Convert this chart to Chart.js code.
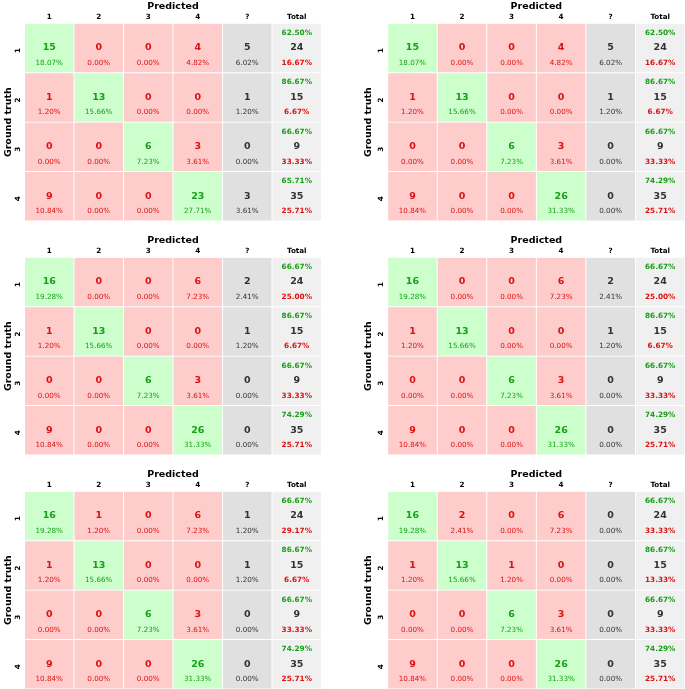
<!DOCTYPE html>
<html>
<head>
<meta charset="utf-8">
<script src="https://cdn.jsdelivr.net/npm/chart.js@4.4.1/dist/chart.umd.min.js"></script>
<style>
  html,body{margin:0;padding:0;background:#fff;overflow:hidden;}
  body{width:685px;height:689px;position:relative;}
  canvas{position:absolute;}
</style>
</head>
<body>
<canvas id="c0"></canvas><canvas id="c1"></canvas>
<canvas id="c2"></canvas><canvas id="c3"></canvas>
<canvas id="c4"></canvas><canvas id="c5"></canvas>
<script>
// ---- data ----
const predictedLabels = ['1', '2', '3', '4', '?', 'Total'];
const truthLabels = ['1', '2', '3', '4'];

// counts per matrix: rows = ground truth 1..4, cols = predicted 1..4, ?
const matrixTL = [
  [15, 0, 0, 4, 5],
  [1, 13, 0, 0, 1],
  [0, 0, 6, 3, 0],
  [9, 0, 0, 23, 3]
];
const matrixTR = [
  [15, 0, 0, 4, 5],
  [1, 13, 0, 0, 1],
  [0, 0, 6, 3, 0],
  [9, 0, 0, 26, 0]
];
const matrixML = [
  [16, 0, 0, 6, 2],
  [1, 13, 0, 0, 1],
  [0, 0, 6, 3, 0],
  [9, 0, 0, 26, 0]
];
const matrixMR = [
  [16, 0, 0, 6, 2],
  [1, 13, 0, 0, 1],
  [0, 0, 6, 3, 0],
  [9, 0, 0, 26, 0]
];
const matrixBL = [
  [16, 1, 0, 6, 1],
  [1, 13, 0, 0, 1],
  [0, 0, 6, 3, 0],
  [9, 0, 0, 26, 0]
];
const matrixBR = [
  [16, 2, 0, 6, 0],
  [1, 13, 1, 0, 0],
  [0, 0, 6, 3, 0],
  [9, 0, 0, 26, 0]
];

const matrices = [matrixTL, matrixTR, matrixML, matrixMR, matrixBL, matrixBR];

// ---- styling ----
const FONT = "'DejaVu Sans', sans-serif";
const BG_GREEN = '#ccffcc', BG_RED = '#ffcccc', BG_UNK = '#e0e0e0', BG_TOT = '#f0f0f0';
const TX_GREEN = '#16a016', TX_RED = '#dd1111', TX_DARK = '#333333';

const panelPos = [
  {left: 0,   top: 0,     width: 340, yAxisW: 21.5, padL: 3,  padR: 18.5},
  {left: 340, top: 0,     width: 345, yAxisW: 24.7, padL: 23, padR: 0},
  {left: 0,   top: 234,   width: 340, yAxisW: 21.5, padL: 3,  padR: 18.5},
  {left: 340, top: 234,   width: 345, yAxisW: 24.7, padL: 23, padR: 0},
  {left: 0,   top: 467.7, width: 340, yAxisW: 21.5, padL: 3,  padR: 18.5},
  {left: 340, top: 467.7, width: 345, yAxisW: 24.7, padL: 23, padR: 0}
];
const PANEL_H = 221;
const X_AXIS_H = 23.3;

function fmtPct(v) { return (v * 100).toFixed(2) + '%'; }

const cellTextPlugin = {
  id: 'cellText',
  afterDatasetsDraw(chart) {
    const m = chart.config.options.plugins.cellText.matrix;
    const grand = m.reduce((s, r) => s + r.reduce((a, b) => a + b, 0), 0);
    const ctx = chart.ctx;
    ctx.save();
    ctx.textAlign = 'center';
    ctx.textBaseline = 'middle';
    chart.data.datasets.forEach((ds, r) => {
      const meta = chart.getDatasetMeta(r);
      const rowTotal = m[r].reduce((a, b) => a + b, 0);
      meta.data.forEach((el, c) => {
        const cx = el.x;
        const cy = (el.y + el.base) / 2;
        if (c < 5) {
          const v = m[r][c];
          const col = c === r ? TX_GREEN : (c === 4 ? TX_DARK : TX_RED);
          ctx.fillStyle = col;
          ctx.font = 'bold 9.5px ' + FONT;
          ctx.fillText(String(v), cx, cy);
          ctx.font = '7.2px ' + FONT;
          ctx.fillText(fmtPct(v / grand), cx, cy + 14.8);
        } else {
          const correct = m[r][r];
          const wrong = m[r].slice(0, 4).reduce((a, b) => a + b, 0) - correct;
          ctx.font = 'bold 7.3px ' + FONT;
          ctx.fillStyle = TX_GREEN;
          ctx.fillText(fmtPct(correct / rowTotal), cx, cy - 15.2);
          ctx.fillStyle = TX_RED;
          ctx.fillText(fmtPct(wrong / rowTotal), cx, cy + 14.8);
          ctx.fillStyle = TX_DARK;
          ctx.font = 'bold 9.5px ' + FONT;
          ctx.fillText(String(rowTotal), cx, cy);
        }
      });
    });
    ctx.restore();
  }
};

matrices.forEach((m, k) => {
  const p = panelPos[k];
  const cv = document.getElementById('c' + k);
  cv.style.left = p.left + 'px';
  cv.style.top = p.top + 'px';
  cv.style.width = p.width + 'px';
  cv.style.height = PANEL_H + 'px';
  cv.width = p.width;
  cv.height = PANEL_H;

  const datasets = truthLabels.map((lab, r) => ({
    label: lab,
    data: predictedLabels.map(() => [r, r + 1]),
    backgroundColor: predictedLabels.map((_, c) =>
      c === 5 ? BG_TOT : c === 4 ? BG_UNK : (c === r ? BG_GREEN : BG_RED)),
    borderColor: '#ffffff',
    borderWidth: 0.8,
    borderSkipped: false,
    grouped: false,
    barPercentage: 1,
    categoryPercentage: 1
  }));

  new Chart(cv, {
    type: 'bar',
    data: { labels: predictedLabels, datasets },
    options: {
      responsive: false,
      animation: false,
      devicePixelRatio: 1,
      layout: { padding: { left: p.padL, right: p.padR, top: 0, bottom: 0 } },
      plugins: {
        legend: { display: false },
        tooltip: { enabled: false },
        cellText: { matrix: m }
      },
      scales: {
        x: {
          position: 'top',
          grid: { display: false, drawTicks: false },
          border: { display: false },
          ticks: { color: '#000', font: { family: FONT, size: 7.2, weight: 'bold' }, padding: 1.5 },
          title: { display: true, text: 'Predicted', color: '#000', font: { family: FONT, size: 9.5, weight: 'bold' }, padding: { top: 1, bottom: 0 } },
          afterFit(s) { s.height = X_AXIS_H; s.paddingLeft = 0; s.paddingRight = 0; }
        },
        y: {
          type: 'linear',
          min: 0, max: 4, reverse: true,
          grid: { display: false, drawTicks: false },
          border: { display: false },
          afterBuildTicks(s) { s.ticks = [0.5, 1.5, 2.5, 3.5].map(v => ({ value: v })); },
          ticks: {
            color: '#000',
            font: { family: FONT, size: 7.2, weight: 'bold' },
            minRotation: 90, maxRotation: 90,
            padding: 6.5,
            callback: (v) => truthLabels[Math.floor(v)]
          },
          title: { display: true, text: 'Ground truth', color: '#000', font: { family: FONT, size: 9.5, weight: 'bold' }, padding: 0 },
          afterFit(s) { s.width = p.yAxisW; s.paddingTop = 0; s.paddingBottom = 0; }
        }
      }
    },
    plugins: [cellTextPlugin]
  });
});
</script>
</body>
</html>
